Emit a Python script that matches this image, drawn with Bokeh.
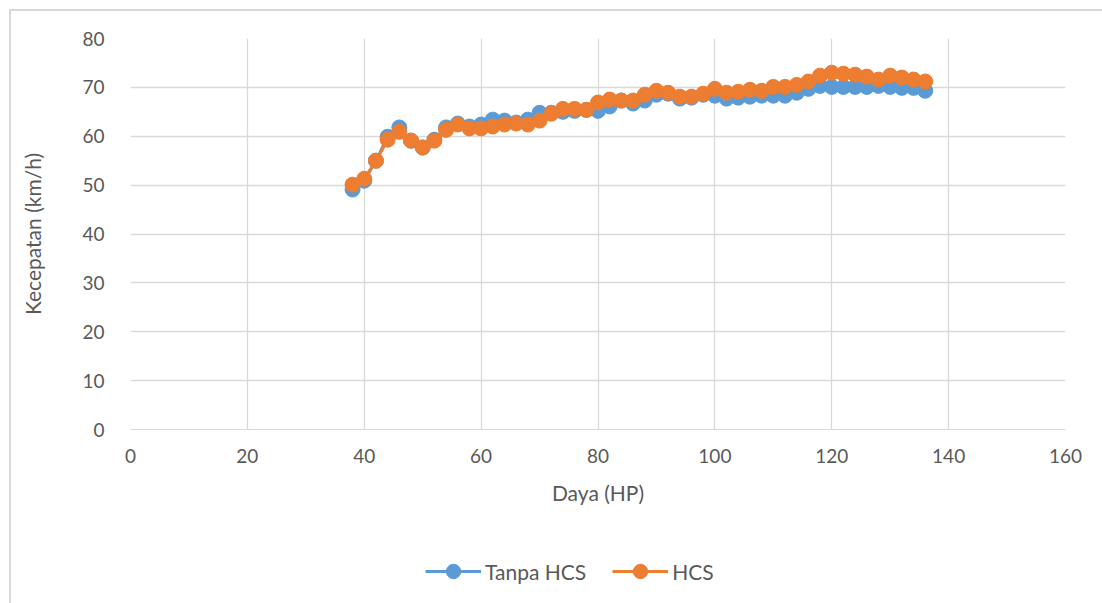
from bokeh.plotting import figure
from bokeh.models import Range1d, FixedTicker, Legend, LegendItem
from bokeh.layouts import column
from bokeh.embed import file_html
from bokeh.resources import INLINE

daya = list(range(38, 137, 2))
tanpa_hcs = [49.1, 50.9, 55.0, 59.9, 61.8, 59.1, 57.7, 59.3, 61.8, 62.6,
             62.0, 62.4, 63.4, 63.2, 62.8, 63.4, 64.8, 64.8, 65.0, 65.2,
             65.4, 65.2, 66.1, 67.3, 66.7, 67.3, 68.5, 68.7, 67.7, 67.9,
             68.5, 68.3, 67.7, 67.9, 68.1, 68.3, 68.3, 68.3, 68.9, 69.7,
             70.3, 70.1, 70.1, 70.1, 70.1, 70.3, 70.1, 69.9, 69.9, 69.3]
hcs = [50.1, 51.3, 55.0, 59.3, 60.9, 59.1, 57.7, 59.1, 61.3, 62.4,
       61.6, 61.6, 62.0, 62.4, 62.6, 62.4, 63.2, 64.6, 65.6, 65.6,
       65.4, 66.9, 67.5, 67.3, 67.3, 68.5, 69.3, 68.9, 68.1, 68.1,
       68.7, 69.7, 68.9, 69.1, 69.5, 69.3, 70.1, 70.1, 70.5, 71.2,
       72.4, 73.0, 72.8, 72.6, 72.2, 71.6, 72.4, 72.0, 71.6, 71.2]
x_ticks = [0, 20, 40, 60, 80, 100, 120, 140, 160]
y_ticks = [0, 10, 20, 30, 40, 50, 60, 70, 80]
series_names = ["Tanpa HCS", "HCS"]
colors = ["#5B9BD5", "#ED7D31"]

FONT = "Lato"
TXT = "#595959"
GRID = "#D9D9D9"

p = figure(width=1091, height=540, output_backend="svg", toolbar_location=None,
           x_range=Range1d(0, 160), y_range=Range1d(0, 80),
           min_border_left=119, min_border_top=27, min_border_right=37,
           min_border_bottom=122)
p.outline_line_color = None
p.background_fill_color = "white"
p.border_fill_color = "white"

p.xaxis.ticker = FixedTicker(ticks=x_ticks)
p.yaxis.ticker = FixedTicker(ticks=y_ticks)
for ax in (p.xaxis[0], p.yaxis[0]):
    ax.major_tick_line_color = None
    ax.minor_tick_line_color = None
    ax.major_label_text_font = FONT
    ax.major_label_text_font_size = "19px"
    ax.major_label_text_color = TXT
    ax.axis_label_text_font = FONT
    ax.axis_label_text_font_size = "21px"
    ax.axis_label_text_color = TXT
    ax.axis_label_text_font_style = "normal"
p.xaxis.axis_line_color = GRID
p.yaxis.axis_line_color = None
p.xaxis.axis_label = "Daya (HP)"
p.yaxis.axis_label = "Kecepatan (km/h)"
p.xaxis.major_label_standoff = 13
p.yaxis.major_label_standoff = 20
p.xaxis.axis_label_standoff = 14
p.yaxis.axis_label_standoff = 34

p.xgrid.grid_line_color = GRID
p.ygrid.grid_line_color = GRID
p.xgrid.grid_line_width = 1.3
p.ygrid.grid_line_width = 1.3

for ys, c in zip([tanpa_hcs, hcs], colors):
    p.line(daya, ys, line_color=c, line_width=3)
    p.scatter(daya, ys, size=15, fill_color=c, line_color=c)

# legend strip below the chart (its frame is aligned with the chart's frame)
lg = figure(width=1091, height=52, output_backend="svg", toolbar_location=None,
            x_range=Range1d(0, 1), y_range=Range1d(0, 1),
            x_axis_location=None, y_axis_location=None,
            min_border_left=0, min_border_right=0,
            min_border_top=0, min_border_bottom=0)
lg.grid.visible = False
lg.outline_line_color = None
lg.border_fill_color = "white"
items = []
for name, c in zip(series_names, colors):
    # key-only renderers, placed outside the strip's visible range
    l = lg.line(x=[5, 6], y=[5, 6], line_color=c, line_width=3)
    s = lg.scatter(x=[5], y=[5], size=15, fill_color=c, line_color=c)
    items.append(LegendItem(label=name, renderers=[l, s]))
legend = Legend(items=items, orientation="horizontal", location=(295, 14),
                label_text_font=FONT, label_text_font_size="21px",
                label_text_color=TXT, glyph_width=56, glyph_height=36,
                label_standoff=4, spacing=26, padding=0, margin=0,
                border_line_color=None, background_fill_alpha=0)
lg.add_layout(legend, "center")

layout = column(p, lg, spacing=0,
                styles={"border-left": "2px solid #D9D9D9",
                        "border-top": "2px solid #D9D9D9",
                        "margin-left": "9px", "margin-top": "9px"})

open("out.html", "w").write(file_html(layout, INLINE))
